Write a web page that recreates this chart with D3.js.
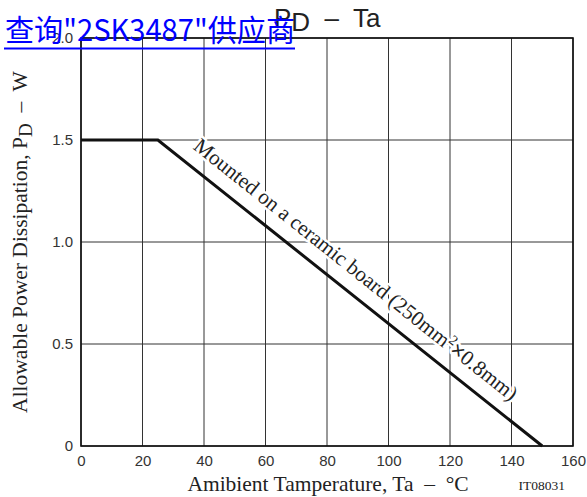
<!DOCTYPE html>
<html>
<head>
<meta charset="utf-8">
<script src="https://cdn.jsdelivr.net/npm/d3@7"></script>
<style>
  body { margin: 0; background: #fff; }
  svg { display: block; }
  text { white-space: pre; }
</style>
</head>
<body>
<script>
// data
var tempC = [0, 25, 150];
var powerW = [1.5, 1.5, 0];
var xTicks = [0, 20, 40, 60, 80, 100, 120, 140, 160];
var yTicks = [0, 0.5, 1.0, 1.5, 2.0];
var yTickLabels = ["0", "0.5", "1.0", "1.5", "2.0"];

var width = 587, height = 497;
var plotL = 81, plotR = 573, plotT = 38, plotB = 446;
var serif = "Liberation Serif, Times New Roman, serif";
var sans = "Liberation Sans, Arial, sans-serif";

var svg = d3.select("body").append("svg").attr("width", width).attr("height", height);

var x = d3.scaleLinear().domain([0, 160]).range([plotL, plotR]);
var y = d3.scaleLinear().domain([0, 2.0]).range([plotB, plotT]);

// grid
var grid = svg.append("g");
grid.selectAll("line.vx").data(xTicks).enter().append("line")
  .attr("x1", function(d) { return x(d); }).attr("x2", function(d) { return x(d); })
  .attr("y1", plotT).attr("y2", plotB)
  .attr("stroke", "#333").attr("stroke-width", 1);
grid.selectAll("line.hy").data(yTicks).enter().append("line")
  .attr("y1", function(d) { return y(d); }).attr("y2", function(d) { return y(d); })
  .attr("x1", plotL).attr("x2", plotR)
  .attr("stroke", "#333").attr("stroke-width", 1);

// axes (labels only)
var xAxis = d3.axisBottom(x).tickValues(xTicks).tickSize(0).tickPadding(9);
var yAxis = d3.axisLeft(y).tickValues(yTicks).tickSize(0).tickPadding(8)
  .tickFormat(function(d, i) { return yTickLabels[i]; });
var gx = svg.append("g").attr("transform", "translate(0," + plotB + ")").call(xAxis);
var gy = svg.append("g").attr("transform", "translate(" + plotL + ",0)").call(yAxis);
[gx, gy].forEach(function(g) {
  g.select(".domain").remove();
  g.selectAll("text").attr("font-family", sans)
    .attr("font-size", 15).attr("fill", "#333");
});
gy.selectAll("text").attr("dy", "0.32em");

// frame
svg.append("rect").attr("x", plotL).attr("y", plotT)
  .attr("width", plotR - plotL).attr("height", plotB - plotT)
  .attr("fill", "none").attr("stroke", "#111").attr("stroke-width", 1.6);

// derating curve
var line = d3.line().x(function(d, i) { return x(tempC[i]); }).y(function(d, i) { return y(powerW[i]); });
svg.append("path").datum(tempC).attr("d", line)
  .attr("fill", "none").attr("stroke", "#111").attr("stroke-width", 3);

// annotation along the slope
var x0 = x(tempC[1]), y0 = y(powerW[1]), x1 = x(tempC[2]), y1 = y(powerW[2]);
var ang = Math.atan2(y1 - y0, x1 - x0) * 180 / Math.PI;
var ann = svg.append("text")
  .attr("transform", "translate(" + x0 + "," + y0 + ") rotate(" + ang + ")")
  .attr("x", 32).attr("y", -15)
  .attr("font-family", serif)
  .attr("font-size", 21.2).attr("fill", "#222")
  .attr("stroke", "#fff").attr("stroke-width", 5).attr("paint-order", "stroke")
  .attr("stroke-linejoin", "round");
ann.append("tspan").text("Mounted on a ceramic board (250mm");
ann.append("tspan").attr("dy", -8).attr("font-size", 14).text("2");
ann.append("tspan").attr("dy", 8).attr("font-family", sans).attr("font-size", 22).text("\u00d7");
ann.append("tspan").text("0.8mm)");

// title
var title = svg.append("text").attr("x", 274).attr("y", 27)
  .attr("font-family", sans).attr("font-size", 26).attr("fill", "#222");
title.append("tspan").text("P");
title.append("tspan").attr("dy", 4).text("D");
title.append("tspan").attr("dy", -4).text("  \u2013  Ta");

// axis titles
svg.append("text").attr("x", 328).attr("y", 491).attr("text-anchor", "middle")
  .attr("font-family", serif).attr("font-size", 21.5).attr("fill", "#222")
  .text("Amibient Tamperature, Ta  \u2013  \u00b0C");
svg.append("text").attr("x", 565).attr("y", 490).attr("text-anchor", "end")
  .attr("font-family", serif).attr("font-size", 13.5).attr("fill", "#222")
  .text("IT08031");

var yl = svg.append("text").attr("transform", "translate(27," + 242 + ") rotate(-90)")
  .attr("text-anchor", "middle")
  .attr("font-family", serif).attr("font-size", 21.5).attr("fill", "#222");
yl.append("tspan").text("Allowable Power Dissipation, P");
yl.append("tspan").attr("dy", 5).attr("font-size", 19).text("D");
yl.append("tspan").attr("dy", -5).text("  \u2013  W");

// overlay link text
svg.append("text").attr("x", 5).attr("y", 41)
  .attr("font-family", "Noto Sans CJK SC, sans-serif").attr("font-size", 30).attr("fill", "#0000ff")
  .attr("textLength", 290).attr("lengthAdjust", "spacingAndGlyphs")
  .text("查询\"2SK3487\"供应商");
svg.append("line").attr("x1", 4).attr("x2", 295).attr("y1", 48.5).attr("y2", 48.5)
  .attr("stroke", "#0000ff").attr("stroke-width", 2);
</script>
</body>
</html>
